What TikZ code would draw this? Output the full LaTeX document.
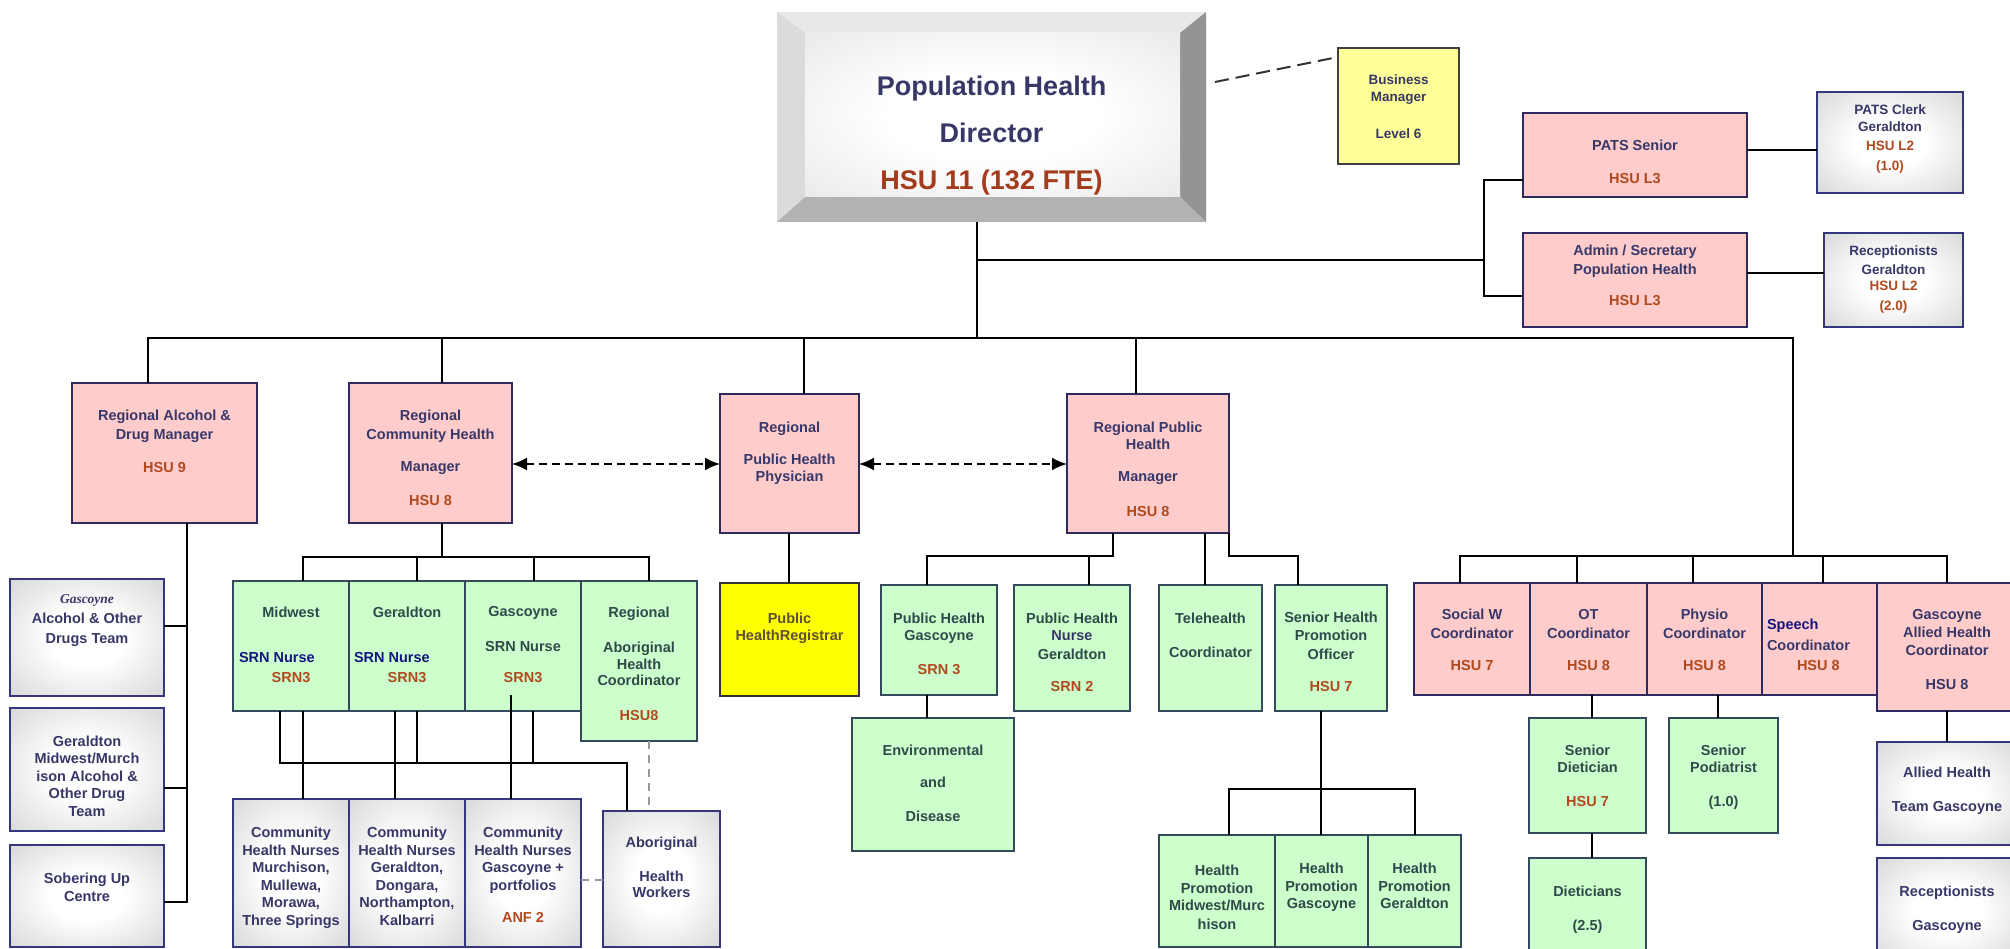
\documentclass[tikz,border=0pt]{standalone}
\usepackage{fontspec}
\setmainfont{Liberation Sans}
\newfontfamily\gserif{Liberation Serif}
\usetikzlibrary{arrows.meta}
\definecolor{pinkF}{HTML}{FFCCCC}
\definecolor{pinkD}{HTML}{2E2A5E}
\definecolor{greenF}{HTML}{CCFFCC}
\definecolor{greenD}{HTML}{34495A}
\definecolor{grayD}{HTML}{36367A}
\definecolor{tnavy}{HTML}{383868}
\definecolor{tslate}{HTML}{2F4A4A}
\definecolor{thsu}{HTML}{B04A1E}
\definecolor{dhsu}{HTML}{A33C1C}
\definecolor{tblue}{HTML}{141482}
\definecolor{tolive}{HTML}{5E5030}
\definecolor{yelF}{HTML}{FFFF99}
\definecolor{yelB}{HTML}{FFFF00}
\pgfdeclareradialshading{gbox}{\pgfpoint{0bp}{0bp}}{color(0bp)=(white); color(12bp)=(white); color(45bp)=(black!21); color(72bp)=(black!30)}
\pgfdeclareradialshading{dface}{\pgfpoint{0bp}{0bp}}{color(0bp)=(white); color(14bp)=(white); color(48bp)=(black!13); color(72bp)=(black!18)}
\newcommand{\tx}[2]{\raisebox{#1}[\height][\depth]{\begin{tabular}{@{}c@{}}#2\end{tabular}}}
\newcommand{\mkbox}[7]{\node[#2, minimum width={(#5)-(#3)}, minimum height={(#6)-(#4)}] (#1) at ({((#3)+(#5))/2},{((#4)+(#6))/2}) {#7};}
\tikzset{
 box/.style={inner sep=0pt, outer sep=0pt, line width=2pt, font=\fontsize{14.5}{17.5}\selectfont\bfseries},
 pinkbox/.style={box, draw=pinkD, fill=pinkF, text=tnavy},
 greenbox/.style={box, draw=greenD, fill=greenF, text=tslate},
 graybox/.style={box, draw=grayD, shade, shading=gbox, text=tnavy},
 ybox/.style={box, draw=black!75, line width=1.5pt, fill=yelF, text=tnavy},
 regbox/.style={box, draw=black!80, fill=yelB, text=tolive},
 smallfont/.style={font=\fontsize{13.5}{16}\selectfont\bfseries},
 conn/.style={line width=1.6pt, black},
 darr/.style={line width=2pt, dash pattern=on 8pt off 5pt, {Latex[length=15pt,width=13pt]}-{Latex[length=15pt,width=13pt]}},
 gdash/.style={line width=2pt, gray!80, dash pattern=on 8pt off 6pt},
 bmdash/.style={line width=2pt, black!80, dash pattern=on 14pt off 7pt},
}
\begin{document}
\begin{tikzpicture}[x=1pt,y=-1pt]
\fill[white] (0,0) rectangle (2010,949);
\useasboundingbox (0,0) rectangle (2010,949);

% ---------- director (bevelled) ----------
\fill[black!9] (777,12) -- (1206,12) -- (1180,33) -- (805,33) -- cycle;
\fill[black!14] (777,12) -- (805,33) -- (805,197) -- (777,222) -- cycle;
\fill[black!42] (1206,12) -- (1206,222) -- (1180,197) -- (1180,33) -- cycle;
\fill[black!30] (777,222) -- (805,197) -- (1180,197) -- (1206,222) -- cycle;
\shade[shading=dface] (805,33) rectangle (1180,197);
\node[box, font=\fontsize{27}{31}\selectfont\bfseries, text=tnavy, minimum width=429, minimum height=210] (dir) at (991.5,117)
 {\tx{-19pt}{Population Health\\[16pt]Director\\[16pt]\color{dhsu}HSU 11 (132 FTE)}};

% ---------- top right ----------
\mkbox{bm}{ybox,smallfont}{1338}{48}{1459}{164}{\tx{-2.5pt}{Business\\[1pt]Manager\\[21pt]Level 6}}
\mkbox{pats}{pinkbox}{1523}{113}{1747}{197}{\tx{-8.5pt}{PATS Senior\\[15.5pt]\color{thsu}HSU L3}}
\mkbox{patsclerk}{graybox,smallfont}{1817}{92}{1963}{193}{\tx{3.5pt}{PATS Clerk\\[1pt]Geraldton\\[3pt]\color{thsu}HSU L2\\[4pt]\color{thsu}(1.0)}}
\mkbox{admin}{pinkbox}{1523}{233}{1747}{327}{\tx{3pt}{Admin / Secretary\\[1.5pt]Population Health\\[13.5pt]\color{thsu}HSU L3}}
\mkbox{recger}{graybox,smallfont}{1824}{233}{1963}{327}{\tx{0pt}{Receptionists\\[3pt]Geraldton\\[0pt]\color{thsu}HSU L2\\[4pt]\color{thsu}(2.0)}}

% ---------- second row ----------
\mkbox{radm}{pinkbox}{72}{383}{257}{523}{\tx{10pt}{Regional Alcohol \&\\[1.5pt]Drug Manager\\[15.5pt]\color{thsu}HSU 9}}
\mkbox{rchm}{pinkbox}{349}{383}{512}{523}{\tx{-6.5pt}{Regional\\[1.5pt]Community Health\\[14.5pt]Manager\\[16.5pt]\color{thsu}HSU 8}}
\mkbox{rphp}{pinkbox}{720}{394}{859}{533}{\tx{10pt}{Regional\\[14.5pt]Public Health\\[-0.5pt]Physician}}
\mkbox{rphm}{pinkbox}{1067}{394}{1229}{533}{\tx{-7.5pt}{Regional Public\\[-0.5pt]Health\\[14.5pt]Manager\\[17.5pt]\color{thsu}HSU 8}}

% ---------- left column ----------
\mkbox{gaod}{graybox}{10}{579}{164}{696}{\tx{17.5pt}{{\gserif\fontsize{13.5}{17.5}\selectfont\bfseries\itshape Gascoyne}\\[2.5pt]Alcohol \& Other\\[2.5pt]Drugs Team}}
\mkbox{gmw}{graybox}{10}{708}{164}{831}{\tx{-8pt}{Geraldton\\Midwest/Murch\\ison Alcohol \&\\Other Drug\\Team}}
\mkbox{sob}{graybox}{10}{845}{164}{947}{\tx{7pt}{Sobering Up\\[0.5pt]Centre}}

% ---------- nurses ----------
\mkbox{mw}{greenbox}{233}{581}{349}{711}{\tx{0pt}{Midwest\\[27.5pt]\makebox[104pt][l]{\color{tblue}SRN Nurse}\\[2.5pt]\color{thsu}SRN3}}
\mkbox{ger}{greenbox}{349}{581}{465}{711}{\tx{0pt}{Geraldton\\[27.5pt]\makebox[106pt][l]{\color{tblue}SRN Nurse}\\[2.5pt]\color{thsu}SRN3}}
\mkbox{gas}{greenbox}{465}{581}{581}{711}{\tx{0pt}{Gascoyne\\[17.5pt]SRN Nurse\\[13.5pt]\color{thsu}SRN3}}
\mkbox{rah}{greenbox}{581}{581}{697}{741}{\tx{-4.5pt}{Regional\\[17.5pt]Aboriginal\\[-0.5pt]Health\\[-1pt]Coordinator\\[17.5pt]\color{thsu}HSU8}}

\mkbox{chn1}{graybox}{233}{799}{349}{947}{\tx{-5pt}{Community\\Health Nurses\\Murchison,\\Mullewa,\\Morawa,\\Three Springs}}
\mkbox{chn2}{graybox}{349}{799}{465}{947}{\tx{-5pt}{Community\\Health Nurses\\Geraldton,\\Dongara,\\Northampton,\\Kalbarri}}
\mkbox{chn3}{graybox}{465}{799}{581}{947}{\tx{-3.5pt}{Community\\Health Nurses\\Gascoyne +\\portfolios\\[14.5pt]\color{thsu}ANF 2}}
\mkbox{ahw}{graybox}{603}{811}{720}{947}{\tx{10pt}{Aboriginal\\[16.5pt]Health\\[-1pt]Workers}}

% ---------- middle ----------
\mkbox{reg}{regbox}{720}{583}{859}{696}{\tx{11pt}{Public\\[-0.5pt]HealthRegistrar}}
\mkbox{phg}{greenbox}{881}{585}{997}{695}{\tx{-5.5pt}{Public Health\\[-0.5pt]Gascoyne\\[16.5pt]\color{thsu}SRN 3}}
\mkbox{phng}{greenbox}{1014}{585}{1130}{711}{\tx{-6pt}{Public Health\\[-0.5pt]\color{tnavy}Nurse\\[1.5pt]Geraldton\\[14.5pt]\color{thsu}SRN 2}}
\mkbox{env}{greenbox}{852}{718}{1014}{851}{\tx{0pt}{Environmental\\[14.5pt]and\\[16.5pt]Disease}}
\mkbox{tel}{greenbox}{1159}{585}{1262}{711}{\tx{11pt}{Telehealth\\[16.5pt]Coordinator}}
\mkbox{shpo}{greenbox}{1275}{585}{1387}{711}{\tx{-5.5pt}{Senior Health\\[0.5pt]Promotion\\[1.5pt]Officer\\[14.5pt]\color{thsu}HSU 7}}
\mkbox{hp1}{greenbox}{1159}{835}{1275}{947}{\tx{-8pt}{Health\\[0.5pt]Promotion\\[-0.5pt]Midwest/Murc\\[1.5pt]hison}}
\mkbox{hp2}{greenbox}{1275}{835}{1368}{947}{\tx{3.5pt}{Health\\Promotion\\Gascoyne}}
\mkbox{hp3}{greenbox}{1368}{835}{1461}{947}{\tx{3.5pt}{Health\\Promotion\\Geraldton}}

% ---------- allied health ----------
\mkbox{sw}{pinkbox}{1414}{583}{1530}{695}{\tx{-2.5pt}{Social W\\[1.5pt]Coordinator\\[14.5pt]\color{thsu}HSU 7}}
\mkbox{ot}{pinkbox}{1530}{583}{1647}{695}{\tx{-2.5pt}{OT\\[1.5pt]Coordinator\\[14.5pt]\color{thsu}HSU 8}}
\mkbox{physio}{pinkbox}{1647}{583}{1762}{695}{\tx{-2.5pt}{Physio\\[1.5pt]Coordinator\\[14.5pt]\color{thsu}HSU 8}}
\mkbox{speech}{pinkbox}{1762}{583}{1877}{695}{\tx{-7.5pt}{\makebox[105pt][l]{\color{tblue}Speech}\\[3.5pt]\makebox[105pt][l]{Coordinator}\\[2.5pt]\makebox[105pt][l]{\hspace*{30pt}\color{thsu}HSU 8}}}
\mkbox{gahc}{pinkbox}{1877}{583}{2017}{711}{\tx{-4pt}{Gascoyne\\[0.5pt]Allied Health\\[0.5pt]Coordinator\\[16.5pt]HSU 8}}
\mkbox{sd}{greenbox}{1529}{718}{1646}{833}{\tx{-2pt}{Senior\\[-0.5pt]Dietician\\[16.5pt]\color{thsu}HSU 7}}
\mkbox{sp}{greenbox}{1669}{718}{1778}{833}{\tx{-2pt}{Senior\\[-0.5pt]Podiatrist\\[16.5pt](1.0)}}
\mkbox{diet}{greenbox}{1529}{858}{1646}{962}{\tx{0pt}{Dieticians\\[16.5pt](2.5)}}
\mkbox{aht}{graybox}{1877}{742}{2017}{845}{\tx{2.5pt}{Allied Health\\[16.5pt]Team Gascoyne}}
\mkbox{recg}{graybox}{1877}{858}{2017}{962}{\tx{0pt}{Receptionists\\[16.5pt]Gascoyne}}

% ---------- connectors ----------
% director stem and admin bracket
\coordinate (stem) at (977,338);
\coordinate (brk) at (1484,260);
\coordinate (brkT) at (1484,180);
\coordinate (brkB) at (1484,296);
\draw[conn] (stem |- dir.south) -- (stem);
\draw[conn] (stem |- brk) -- (brk);
\draw[conn] (pats.west |- brkT) -- (brkT) -- (brkB) -- (admin.west |- brkB);
\coordinate (pc) at (1790,150);
\coordinate (rc) at (1790,273);
\draw[conn] (pats.east |- pc) -- (patsclerk.west |- pc);
\draw[conn] (admin.east |- rc) -- (recger.west |- rc);
\coordinate (dA) at (1215,82);
\coordinate (dB) at (1338,57);
\draw[bmdash] (dA) -- (bm.west |- dB);

% main bus
\coordinate (d1) at (148,338);
\coordinate (d2) at (442,338);
\coordinate (d3) at (804,338);
\coordinate (d4) at (1136,338);
\coordinate (d5) at (1793,338);
\coordinate (ab3) at (1793,556);
\draw[conn] (d1 |- radm.north) -- (d1) -- (d5) -- (ab3);
\draw[conn] (d2) -- (d2 |- rchm.north);
\draw[conn] (d3) -- (d3 |- rphp.north);
\draw[conn] (d4) -- (d4 |- rphm.north);

% dashed links between managers
\coordinate (ar) at (0,464);
\draw[darr] (ar -| rchm.east) -- (ar -| rphp.west);
\draw[darr] (ar -| rphp.east) -- (ar -| rphm.west);

% alcohol & drugs
\coordinate (l0) at (187,902);
\coordinate (l1) at (187,626);
\coordinate (l2) at (187,788);
\draw[conn] (l0 |- radm.south) -- (l0) -- (l0 -| sob.east);
\draw[conn] (l1) -- (l1 -| gaod.east);
\draw[conn] (l2) -- (l2 -| gmw.east);

% community health
\coordinate (n0) at (442,557);
\coordinate (n1) at (303,557);
\coordinate (n2) at (417,557);
\coordinate (n3) at (534,557);
\coordinate (n4) at (649,557);
\draw[conn] (n0 |- rchm.south) -- (n0);
\draw[conn] (n1 |- mw.north) -- (n1) -- (n4) -- (n4 |- rah.north);
\draw[conn] (n2) -- (n2 |- ger.north);
\draw[conn] (n3) -- (n3 |- gas.north);
\coordinate (v1) at (303,763);
\coordinate (v2) at (395,763);
\coordinate (v3) at (511,695);
\draw[conn] (v1 |- mw.south) -- (v1 |- chn1.north);
\draw[conn] (v2 |- ger.south) -- (v2 |- chn2.north);
\draw[conn] (v3) -- (v3 |- chn3.north);
\coordinate (h1) at (280,763);
\coordinate (h2) at (417,763);
\coordinate (h3) at (533,763);
\coordinate (h4) at (627,763);
\draw[conn] (h1 |- mw.south) -- (h1) -- (h4) -- (h4 |- ahw.north);
\draw[conn] (h2 |- ger.south) -- (h2);
\draw[conn] (h3 |- gas.south) -- (h3);
\coordinate (g1) at (649,780);
\coordinate (g2) at (590,880);
\draw[gdash] (g1 |- rah.south) -- (g1 |- ahw.north);
\draw[gdash] (g2 -| chn3.east) -- (g2 -| ahw.west);

% physician
\coordinate (r1) at (789,560);
\draw[conn] (r1 |- rphp.south) -- (r1 |- reg.north);

% public health manager
\coordinate (p0) at (1113,556);
\coordinate (p1) at (927,556);
\coordinate (p2) at (1089,556);
\coordinate (p3) at (1205,556);
\coordinate (p4) at (1229,556);
\coordinate (p5) at (1298,556);
\draw[conn] (p0 |- rphm.south) -- (p0) -- (p1) -- (p1 |- phg.north);
\draw[conn] (p2) -- (p2 |- phng.north);
\draw[conn] (p3 |- rphm.south) -- (p3 |- tel.north);
\draw[conn] (p4 |- rphm.south) -- (p4) -- (p5) -- (p5 |- shpo.north);
\draw[conn] (p1 |- phg.south) -- (p1 |- env.north);
\coordinate (s0) at (1321,789);
\coordinate (s1) at (1229,789);
\coordinate (s2) at (1415,789);
\draw[conn] (s0 |- shpo.south) -- (s0 |- hp2.north);
\draw[conn] (s1 |- hp1.north) -- (s1) -- (s2) -- (s2 |- hp3.north);

% allied health
\coordinate (ab1) at (1460,556);
\coordinate (ab2) at (1577,556);
\coordinate (ab4) at (1693,556);
\coordinate (ab6) at (1823,556);
\coordinate (ab5) at (1947,556);
\draw[conn] (ab1 |- sw.north) -- (ab1) -- (ab5) -- (ab5 |- gahc.north);
\draw[conn] (ab2) -- (ab2 |- ot.north);
\draw[conn] (ab4) -- (ab4 |- physio.north);
\draw[conn] (ab6) -- (ab6 |- speech.north);
\coordinate (o1) at (1592,700);
\coordinate (o2) at (1718,700);
\coordinate (o3) at (1947,720);
\draw[conn] (o1 |- ot.south) -- (o1 |- sd.north);
\draw[conn] (o1 |- sd.south) -- (o1 |- diet.north);
\draw[conn] (o2 |- physio.south) -- (o2 |- sp.north);
\draw[conn] (o3 |- gahc.south) -- (o3 |- aht.north);
\end{tikzpicture}
\end{document}
